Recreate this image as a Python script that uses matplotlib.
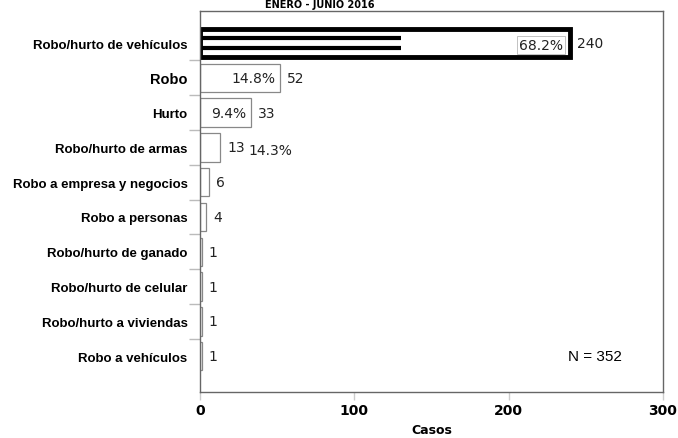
import matplotlib
matplotlib.use("Agg")
import matplotlib.pyplot as plt

# data
categories = [
    "Robo/hurto de vehículos",
    "Robo",
    "Hurto",
    "Robo/hurto de armas",
    "Robo a empresa y negocios",
    "Robo a personas",
    "Robo/hurto de ganado",
    "Robo/hurto de celular",
    "Robo/hurto a viviendas",
    "Robo a vehículos",
]
casos = [240, 52, 33, 13, 6, 4, 1, 1, 1, 1]
pct_labels = ["68.2%", "14.8%", "9.4%", "14.3%"]
x_ticks = [0, 100, 200, 300]
total_n = 352

fig = plt.figure(figsize=(6.78, 4.39), dpi=100)
ax = fig.add_axes([200 / 678, 1 - 393 / 439, 463 / 678, 381 / 439])

pos = list(range(len(categories)))
bars = ax.barh(pos, casos, height=0.82, color="white", edgecolor="#888888",
               linewidth=0.9)
# first bar drawn heavy, as in the original
bars[0].set_edgecolor("black")
bars[0].set_linewidth(3.5)
ax.hlines([pos[0] - 0.13, pos[0] + 0.13], 0, 130, color="black", linewidth=3)

ax.set_xlim(0, 300)
ax.set_ylim(len(categories) - 1 + 1.03, -0.92)

label_font = dict(family="DejaVu Sans", fontsize=10, color="#222222")
for i, v in enumerate(casos):
    ax.text(v + 4.5, pos[i], str(v), va="center", ha="left", **label_font)

# percentages
ax.text(235, pos[0] + 0.05, pct_labels[0], va="center", ha="right",
        bbox=dict(boxstyle="square,pad=0.15", fc="white", ec="#aaaaaa", lw=0.5),
        **label_font)
ax.text(49, pos[1], pct_labels[1], va="center", ha="right", **label_font)
ax.text(30, pos[2], pct_labels[2], va="center", ha="right", **label_font)
ax.text(31.5, pos[3] + 0.08, pct_labels[3], va="center", ha="left", **label_font)

ax.set_yticks(pos)
ax.set_yticklabels(categories, family="Liberation Sans", fontweight="bold",
                   fontsize=9.5)
ax.get_yticklabels()[1].set_fontsize(10.5)
ax.tick_params(axis="y", length=0, pad=9)
ax.set_yticks([p + 0.5 for p in pos[:-1]], minor=True)
ax.tick_params(axis="y", which="minor", length=8, color="#bbbbbb", width=1)

ax.set_xticks(x_ticks)
ax.set_xticklabels([str(t) for t in x_ticks], family="DejaVu Sans",
                   fontweight="bold", fontsize=10)
ax.tick_params(axis="x", length=6, color="#cccccc", width=1, pad=2)
ax.set_xlabel("Casos", family="DejaVu Sans", fontweight="bold", fontsize=9,
              labelpad=4)

for s in ax.spines.values():
    s.set_color("#666666")
    s.set_linewidth(1)

ax.text(0.853, 0.095, f"N = {total_n}", transform=ax.transAxes,
        family="Liberation Sans", fontsize=11, ha="center", va="center")

fig.text(320 / 678, 0.999, "ENERO - JUNIO 2016", family="DejaVu Sans",
         fontweight="bold", fontsize=7, ha="center", va="top")

fig.savefig("out.png", dpi=100)
